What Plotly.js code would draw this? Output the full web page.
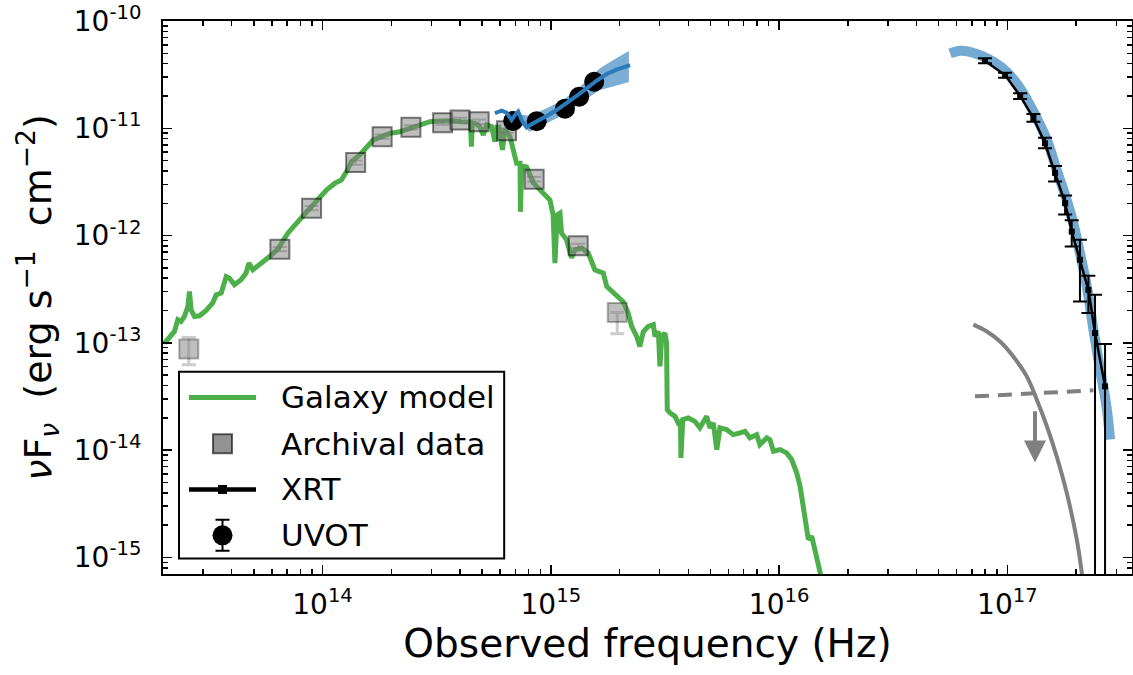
<!DOCTYPE html>
<html>
<head>
<meta charset="utf-8">
<script src="https://cdn.plot.ly/plotly-3.0.1.min.js"></script>
<style>html,body{margin:0;padding:0;background:#fff;}#chart{width:1133px;height:675px;}</style>
</head>
<body>
<div id="chart"></div>
<script>
// ---- Data (log10 of frequency in Hz and of nuFnu in erg s^-1 cm^-2) ----
var galaxyLogNu = [13.308,13.330,13.351,13.366,13.380,13.395,13.410,13.417,13.424,13.439,
  13.461,13.490,13.519,13.534,13.556,13.578,13.592,13.614,13.643,13.665,
  13.677,13.695,13.724,13.768,13.804,13.833,13.848,13.899,13.988,14.018,
  14.054,14.083,14.105,14.127,14.163,14.200,14.222,14.259,14.295,14.339,
  14.383,14.426,14.470,14.514,14.558,14.602,14.638,14.648,14.652,14.656,
  14.667,14.689,14.704,14.719,14.741,14.755,14.764,14.773,14.788,14.799,
  14.821,14.835,14.850,14.865,14.867,14.872,14.894,14.923,14.952,14.974,
  14.996,15.010,15.018,15.028,15.040,15.047,15.069,15.091,15.106,15.135,
  15.164,15.193,15.230,15.245,15.273,15.295,15.317,15.339,15.354,15.376,
  15.390,15.405,15.427,15.449,15.456,15.471,15.478,15.486,15.500,15.507,
  15.510,15.522,15.544,15.558,15.568,15.570,15.578,15.602,15.631,15.653,
  15.683,15.697,15.712,15.727,15.741,15.770,15.799,15.829,15.851,15.872,
  15.902,15.916,15.946,15.960,15.975,16.004,16.033,16.055,16.077,16.092,
  16.106,16.121,16.128,16.143,16.157,16.179,16.192];
var galaxyLogFlux = [-13.002,-12.940,-12.894,-12.785,-12.801,-12.754,-12.661,-12.521,-12.692,-12.754,
  -12.748,-12.698,-12.629,-12.552,-12.536,-12.382,-12.397,-12.459,-12.412,-12.350,
  -12.257,-12.319,-12.273,-12.196,-12.127,-12.040,-11.978,-11.854,-11.652,-11.574,
  -11.512,-11.481,-11.404,-11.311,-11.249,-11.171,-11.109,-11.078,-11.047,-11.032,
  -11.000,-10.969,-10.939,-10.932,-10.929,-10.939,-10.939,-10.941,-11.171,-10.951,
  -10.953,-10.985,-11.062,-10.969,-10.985,-11.125,-10.988,-10.988,-11.202,-11.000,
  -11.078,-11.221,-11.326,-11.326,-11.779,-11.351,-11.360,-11.509,-11.574,-11.621,
  -11.668,-11.807,-12.257,-11.807,-11.791,-11.978,-12.040,-12.208,-12.133,-12.117,
  -12.164,-12.319,-12.350,-12.475,-12.536,-12.568,-12.617,-12.723,-12.847,-12.940,
  -13.034,-12.897,-12.847,-12.831,-12.940,-12.894,-13.220,-12.940,-12.909,-13.002,
  -13.623,-13.654,-13.685,-13.747,-13.735,-14.073,-13.716,-13.700,-13.732,-13.793,
  -13.685,-13.793,-13.747,-13.995,-13.793,-13.809,-13.856,-13.840,-13.825,-13.886,
  -13.856,-13.949,-13.886,-13.902,-14.011,-13.995,-14.026,-14.088,-14.212,-14.337,
  -14.523,-14.771,-14.833,-14.803,-14.926,-15.082,-15.252];

var archLogNu   = [13.813,13.952,14.145,14.261,14.387,14.526,14.602,14.686,14.806,14.927,15.120];
var archLogFlux = [-12.127,-11.745,-11.320,-11.078,-10.991,-10.948,-10.923,-10.939,-11.022,-11.475,-12.096];
var archLogHi   = [-12.107,-11.725,-11.300,-11.058,-10.971,-10.928,-10.903,-10.919,-11.002,-11.455,-12.076];
var archLogLo   = [-12.147,-11.765,-11.340,-11.098,-11.011,-10.968,-10.943,-10.959,-11.042,-11.495,-12.116];
var archFaintLogNu   = [13.414,15.291];
var archFaintLogFlux = [-13.058,-12.717];
var archFaintLogHi   = [-12.950,-12.717];
var archFaintLogLo   = [-13.204,-12.915];

var uvotLogNu   = [14.835,14.938,15.062,15.124,15.190];
var uvotLogFlux = [-10.932,-10.935,-10.817,-10.706,-10.566];
var uvotLogErr  = [0.02,0.02,0.02,0.02,0.02];

var uvModelLogNu   = [14.755,14.784,14.806,14.828,14.843,14.857,14.872,14.894,14.923,14.952,14.982,15.025,15.069,15.113,15.157,15.201,15.245,15.288,15.347];
var uvModelLogFlux = [-10.860,-10.836,-10.855,-10.923,-10.876,-10.845,-10.923,-10.991,-10.953,-10.923,-10.885,-10.830,-10.767,-10.699,-10.628,-10.555,-10.494,-10.453,-10.411];
var uvBandLogNu = [14.856,14.908,14.982,15.054,15.128,15.215,15.281,15.342];
var uvBandLogHi = [-10.867,-10.885,-10.814,-10.737,-10.613,-10.441,-10.355,-10.280];
var uvBandLogLo = [-10.941,-11.032,-10.953,-10.876,-10.764,-10.643,-10.606,-10.569];

var xrtBandLogNu   = [16.749,16.793,16.836,16.880,16.939,16.997,17.056,17.114,17.173,17.216,17.260,17.289,17.318,17.348,17.377,17.406,17.433,17.450];
var xrtBandLogFlux = [-10.302,-10.277,-10.287,-10.318,-10.380,-10.473,-10.628,-10.845,-11.109,-11.388,-11.668,-11.885,-12.164,-12.475,-12.878,-13.250,-13.576,-13.902];

var xrtLogNu   = [16.902,16.990,17.056,17.114,17.165,17.209,17.253,17.282,17.318,17.355,17.384,17.428];
var xrtLogFlux = [-10.373,-10.504,-10.699,-10.904,-11.140,-11.416,-11.698,-11.963,-12.226,-12.506,-12.909,-13.406];
var xrtLogHi   = [-10.348,-10.482,-10.674,-10.867,-11.088,-11.351,-11.626,-11.858,-12.040,-12.375,-12.552,-13.011];
var xrtLogLo   = [-10.395,-10.529,-10.727,-10.939,-11.186,-11.497,-11.803,-12.102,-12.615,-12.723,null,null];

var hostLogNu   = [16.851,16.910,16.968,17.026,17.085,17.129,17.173,17.216,17.260,17.304,17.326,17.334];
var hostLogFlux = [-12.831,-12.894,-12.987,-13.127,-13.313,-13.530,-13.778,-14.058,-14.398,-14.833,-15.143,-15.299];
var limitLogNu   = [16.858,17.377];
var limitLogFlux = [-13.499,-13.443];
var arrowLogNu = 17.121, arrowLogTop = -13.623, arrowLogHead = -14.116;

var xTickExp = [14,15,16,17];
var yTickExp = [-10,-11,-12,-13,-14,-15];
var legendLabels = ['Galaxy model','Archival data','XRT','UVOT'];

// ---- helpers ----
function p10(a){ return a.map(function(v){ return Math.pow(10,v); }); }
var FONT = 'DejaVu Sans, Verdana, sans-serif';
var GREEN = '#4daf4a', BLUE = '#2b7bba', LBLUE = 'rgba(43,123,186,0.62)', GRAY = '#808080';

function minorVals(e0, e1){ var o=[]; for(var e=e0;e<=e1;e++){ for(var m=2;m<=9;m++){ o.push(m*Math.pow(10,e)); } } return o; }

var traces = [];
// galaxy model
traces.push({x:p10(galaxyLogNu), y:p10(galaxyLogFlux), mode:'lines', line:{color:GREEN,width:5}, hoverinfo:'skip'});
// archival faint
traces.push({x:p10(archFaintLogNu), y:p10(archFaintLogFlux), mode:'markers',
  marker:{symbol:'square', size:19, color:'rgba(128,128,128,0.5)', line:{color:'rgba(0,0,0,0.3)', width:2}},
  error_y:{type:'data', symmetric:false,
    array:archFaintLogHi.map(function(h,i){return Math.pow(10,h)-Math.pow(10,archFaintLogFlux[i]);}),
    arrayminus:archFaintLogLo.map(function(l,i){return Math.pow(10,archFaintLogFlux[i])-Math.pow(10,l);}),
    color:'rgba(128,128,128,0.4)', thickness:3, width:7}});
// archival
traces.push({x:p10(archLogNu), y:p10(archLogFlux), mode:'markers',
  marker:{symbol:'square', size:19, color:'rgba(128,128,128,0.5)', line:{color:'rgba(0,0,0,0.5)', width:2}},
  error_y:{type:'data', symmetric:false,
    array:archLogHi.map(function(h,i){return Math.pow(10,h)-Math.pow(10,archLogFlux[i]);}),
    arrayminus:archLogLo.map(function(l,i){return Math.pow(10,archLogFlux[i])-Math.pow(10,l);}),
    color:'rgba(100,100,100,0.45)', thickness:2, width:7}});
// UV model band
traces.push({x:p10(uvBandLogNu), y:p10(uvBandLogLo), mode:'lines', line:{width:0,color:LBLUE}, hoverinfo:'skip'});
traces.push({x:p10(uvBandLogNu), y:p10(uvBandLogHi), mode:'lines', line:{width:0,color:LBLUE}, fill:'tonexty', fillcolor:LBLUE, hoverinfo:'skip'});
// UVOT points
traces.push({x:p10(uvotLogNu), y:p10(uvotLogFlux), mode:'markers',
  marker:{symbol:'circle', size:20, color:'#000'},
  error_y:{type:'data', symmetric:false,
    array:uvotLogErr.map(function(e,i){return Math.pow(10,uvotLogFlux[i]+e)-Math.pow(10,uvotLogFlux[i]);}),
    arrayminus:uvotLogErr.map(function(e,i){return Math.pow(10,uvotLogFlux[i])-Math.pow(10,uvotLogFlux[i]-e);}),
    color:'#000', thickness:2, width:7}});
// UV model line
traces.push({x:p10(uvModelLogNu), y:p10(uvModelLogFlux), mode:'lines', line:{color:BLUE,width:4}, hoverinfo:'skip'});
// XRT model band
traces.push({x:p10(xrtBandLogNu), y:p10(xrtBandLogFlux), mode:'lines', line:{color:'#74a9d2',width:10, shape:'spline'}, hoverinfo:'skip'});
// gray curve, dashed limit
traces.push({x:p10(hostLogNu), y:p10(hostLogFlux), mode:'lines', line:{color:GRAY,width:4, shape:'spline'}, hoverinfo:'skip'});
traces.push({x:p10(limitLogNu), y:p10(limitLogFlux), mode:'lines', line:{color:GRAY,width:4,dash:'14px,9px'}, hoverinfo:'skip'});
// XRT data
traces.push({x:p10(xrtLogNu), y:p10(xrtLogFlux), mode:'lines+markers',
  line:{color:'#000',width:2.5}, marker:{symbol:'square', size:6, color:'#000'},
  error_y:{type:'data', symmetric:false,
    array:xrtLogHi.map(function(h,i){return Math.pow(10,h)-Math.pow(10,xrtLogFlux[i]);}),
    arrayminus:xrtLogLo.map(function(l,i){return l===null ? Math.pow(10,xrtLogFlux[i]) : Math.pow(10,xrtLogFlux[i])-Math.pow(10,l);}),
    color:'#000', thickness:2, width:7}});

// legend glyphs on an overlay axis pair in plot-fraction units
var lgX0 = 0.0268, lgX1 = 0.0960, lgXc = 0.0614;
var lgY = [0.3192, 0.2355, 0.1529, 0.0699];
traces.push({x:[lgX0,lgX1], y:[lgY[0],lgY[0]], xaxis:'x2', yaxis:'y2', mode:'lines', line:{color:GREEN,width:5}, hoverinfo:'skip'});
traces.push({x:[lgXc], y:[lgY[1]], xaxis:'x2', yaxis:'y2', mode:'markers', marker:{symbol:'square', size:19, color:'rgba(128,128,128,0.85)', line:{color:'rgba(0,0,0,0.6)',width:2}}, hoverinfo:'skip'});
traces.push({x:[lgX0,lgX1], y:[lgY[2],lgY[2]], xaxis:'x2', yaxis:'y2', mode:'lines', line:{color:'#000',width:4.5}, hoverinfo:'skip'});
traces.push({x:[lgXc], y:[lgY[2]], xaxis:'x2', yaxis:'y2', mode:'markers', marker:{symbol:'square', size:9, color:'#000'}, hoverinfo:'skip'});
traces.push({x:[lgXc], y:[lgY[3]], xaxis:'x2', yaxis:'y2', mode:'markers', marker:{symbol:'circle', size:20, color:'#000'},
  error_y:{type:'data', array:[0.028], color:'#000', thickness:2, width:7}, hoverinfo:'skip'});

var annotations = legendLabels.map(function(t,i){
  return {xref:'paper', yref:'paper', x:0.1197, y:lgY[i], xanchor:'left', yanchor:'middle', text:t, showarrow:false,
          font:{family:FONT, size:31, color:'#000'}};
});
annotations.push({x:arrowLogNu, y:arrowLogHead, xref:'x', yref:'y', ax:arrowLogNu, ay:arrowLogTop, axref:'x', ayref:'y',
  showarrow:true, arrowhead:2, arrowsize:1.1, arrowwidth:4, arrowcolor:GRAY, text:''});

var layout = {
  width:1133, height:675,
  margin:{l:163, r:1, t:21, b:101},
  paper_bgcolor:'#fff', plot_bgcolor:'#fff',
  showlegend:false,
  font:{family:FONT, color:'#000'},
  xaxis:{type:'log', range:[13.301,17.546], showgrid:false, zeroline:false,
    showline:true, linecolor:'#000', linewidth:2, mirror:'allticks',
    ticks:'inside', ticklen:9, tickwidth:1.5, tickcolor:'#000',
    tickmode:'array', tickvals:p10(xTickExp), ticktext:xTickExp.map(function(e){return '10<sup>'+e+'</sup>';}),
    tickfont:{family:FONT, size:28, color:'#000'}, ticklabelstandoff:4, ticklabeloverflow:'allow',
    minor:{tickmode:'array', tickvals:minorVals(13,17), ticks:'inside', ticklen:5, tickwidth:1.5, tickcolor:'#000', showgrid:false},
    title:{text:'Observed frequency (Hz)', font:{family:FONT, size:39, color:'#000'}, standoff:8}},
  yaxis:{type:'log', range:[-15.155,-10], showgrid:false, zeroline:false,
    showline:true, linecolor:'#000', linewidth:2, mirror:'allticks',
    ticks:'inside', ticklen:9, tickwidth:1.5, tickcolor:'#000',
    tickmode:'array', tickvals:p10(yTickExp), ticktext:yTickExp.map(function(e){return '10<sup>'+e+'</sup>';}),
    tickfont:{family:FONT, size:28, color:'#000'}, ticklabelstandoff:14, ticklabeloverflow:'allow',
    minor:{tickmode:'array', tickvals:minorVals(-16,-11), ticks:'inside', ticklen:5, tickwidth:1.5, tickcolor:'#000', showgrid:false},
    title:{text:'<i>ν</i>F<sub><i>ν</i></sub>  (erg s<sup>−1</sup>  cm<sup>−2</sup>)', font:{family:FONT, size:38, color:'#000'}, standoff:10}},
  xaxis2:{overlaying:'x', anchor:'y2', range:[0,1], visible:false, fixedrange:true},
  yaxis2:{overlaying:'y', anchor:'x2', range:[0,1], visible:false, fixedrange:true},
  shapes:[{type:'rect', xref:'paper', yref:'paper', x0:0.0165, x1:0.3521, y0:0.0282, y1:0.3656,
    line:{color:'#000', width:2}, fillcolor:'#fff', layer:'below'}],
  annotations:annotations
};

Plotly.newPlot('chart', traces, layout, {displayModeBar:false, staticPlot:true});
</script>
</body>
</html>
